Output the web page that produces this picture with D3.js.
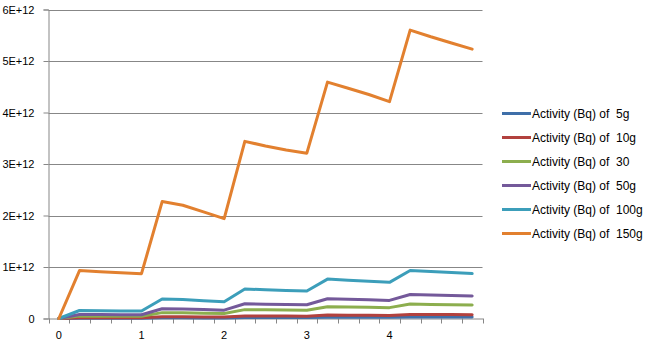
<!DOCTYPE html>
<html>
<head>
<meta charset="utf-8">
<script src="https://cdn.jsdelivr.net/npm/d3@7"></script>
<style>
  html, body { margin: 0; padding: 0; background: #fff; }
  svg { display: block; font-family: "Liberation Sans", Arial, sans-serif; }
</style>
</head>
<body>
<svg id="chart" width="652" height="345"></svg>
<script>
// Category labels along the x axis (one per measurement step)
const categories = ["0", "", "", "", "1", "", "", "", "2", "", "", "", "3", "", "", "", "4", "", "", "", ""];

// Y-axis tick values
const yTicks = [0, 1e12, 2e12, 3e12, 4e12, 5e12, 6e12];

// Activity (Bq) per sample mass
const act5g   = [0, 0.006e12, 0.006e12, 0.006e12, 0.006e12, 0.013e12, 0.013e12, 0.012e12, 0.012e12, 0.019e12, 0.019e12, 0.018e12, 0.018e12, 0.025e12, 0.025e12, 0.024e12, 0.024e12, 0.031e12, 0.030e12, 0.029e12, 0.028e12];
const act10g  = [0, 0.014e12, 0.013e12, 0.013e12, 0.013e12, 0.033e12, 0.032e12, 0.030e12, 0.028e12, 0.050e12, 0.049e12, 0.047e12, 0.046e12, 0.066e12, 0.064e12, 0.062e12, 0.060e12, 0.080e12, 0.078e12, 0.076e12, 0.075e12];
const act30   = [0, 0.047e12, 0.046e12, 0.045e12, 0.044e12, 0.114e12, 0.110e12, 0.104e12, 0.097e12, 0.172e12, 0.168e12, 0.164e12, 0.161e12, 0.230e12, 0.224e12, 0.218e12, 0.211e12, 0.280e12, 0.274e12, 0.268e12, 0.262e12];
const act50g  = [0, 0.078e12, 0.076e12, 0.074e12, 0.073e12, 0.189e12, 0.183e12, 0.173e12, 0.162e12, 0.287e12, 0.279e12, 0.273e12, 0.268e12, 0.383e12, 0.373e12, 0.363e12, 0.351e12, 0.467e12, 0.456e12, 0.446e12, 0.436e12];
const act100g = [0, 0.155e12, 0.152e12, 0.148e12, 0.145e12, 0.378e12, 0.367e12, 0.345e12, 0.324e12, 0.573e12, 0.558e12, 0.545e12, 0.535e12, 0.765e12, 0.745e12, 0.725e12, 0.702e12, 0.933e12, 0.912e12, 0.892e12, 0.872e12];
const act150g = [0, 0.93e12, 0.91e12, 0.89e12, 0.87e12, 2.27e12, 2.20e12, 2.07e12, 1.94e12, 3.44e12, 3.35e12, 3.27e12, 3.21e12, 4.59e12, 4.47e12, 4.35e12, 4.21e12, 5.60e12, 5.47e12, 5.35e12, 5.23e12];

const seriesNames = ["Activity (Bq) of  5g", "Activity (Bq) of  10g", "Activity (Bq) of  30", "Activity (Bq) of  50g", "Activity (Bq) of  100g", "Activity (Bq) of  150g"];
const seriesValues = [act5g, act10g, act30, act50g, act100g, act150g];
const seriesColors = ["#3f6fa9", "#b2413e", "#8cae4e", "#74599a", "#3c9eba", "#e2802f"];

const svg = d3.select("#chart");
const plot = { left: 48.5, right: 482.5, top: 9.5, bottom: 318.5 };
const gridColor = "#878787";
const fontFamily = '"Liberation Sans", Arial, sans-serif';

const x = d3.scaleBand()
  .domain(d3.range(categories.length))
  .range([plot.left, plot.right])
  .paddingInner(0).paddingOuter(0);

const y = d3.scaleLinear()
  .domain([0, 6e12])
  .range([plot.bottom, plot.top]);

// Horizontal gridlines
svg.append("g")
  .selectAll("line")
  .data(yTicks.filter(d => d > 0))
  .join("line")
  .attr("x1", plot.left).attr("x2", plot.right)
  .attr("y1", d => Math.round(y(d)) + 0.5).attr("y2", d => Math.round(y(d)) + 0.5)
  .attr("stroke", gridColor).attr("stroke-width", 1);

// Y axis
const yAxis = svg.append("g")
  .attr("transform", `translate(${plot.left},0)`)
  .call(d3.axisLeft(y)
    .tickValues(yTicks)
    .tickFormat(d => d === 0 ? "0" : (d / 1e12) + "E+12")
    .tickSize(5).tickPadding(9));
yAxis.select(".domain").attr("stroke", gridColor);
yAxis.selectAll(".tick line").attr("stroke", gridColor);
yAxis.selectAll(".tick text").attr("font-size", 11).attr("fill", "#000")
  .style("font-family", fontFamily);

// X axis with labels centred on categories
const xAxis = svg.append("g")
  .attr("transform", `translate(0,${plot.bottom})`)
  .call(d3.axisBottom(x)
    .tickFormat(i => categories[i])
    .tickSize(0).tickPadding(13));
xAxis.select(".domain").attr("stroke", gridColor);
xAxis.selectAll(".tick text").attr("font-size", 11).attr("fill", "#000")
  .style("font-family", fontFamily);

// Tick marks at category boundaries
const boundaries = d3.range(categories.length + 1).map(i => plot.left + i * x.step());
svg.append("g")
  .selectAll("line")
  .data(boundaries)
  .join("line")
  .attr("x1", d => Math.round(d) + 0.5).attr("x2", d => Math.round(d) + 0.5)
  .attr("y1", plot.bottom).attr("y2", plot.bottom + 5)
  .attr("stroke", gridColor);

// Series lines
const line = d3.line()
  .x((d, i) => x(i) + x.bandwidth() / 2)
  .y(d => y(d));

svg.append("g")
  .selectAll("path")
  .data(seriesValues)
  .join("path")
  .attr("d", d => line(d))
  .attr("fill", "none")
  .attr("stroke", (d, i) => seriesColors[i])
  .attr("stroke-width", 3)
  .attr("stroke-linejoin", "round")
  .attr("stroke-linecap", "round");

// Legend
const legend = svg.append("g");
const rows = legend.selectAll("g")
  .data(seriesNames)
  .join("g")
  .attr("transform", (d, i) => `translate(502,${113.5 + i * 24})`);
rows.append("line")
  .attr("x1", 0).attr("x2", 29)
  .attr("stroke", (d, i) => seriesColors[i])
  .attr("stroke-width", 3);
rows.append("text")
  .attr("x", 30).attr("dy", "0.35em")
  .attr("font-size", 12)
  .style("white-space", "pre")
  .style("font-family", fontFamily)
  .attr("fill", "#000")
  .text(d => d);
</script>
</body>
</html>
